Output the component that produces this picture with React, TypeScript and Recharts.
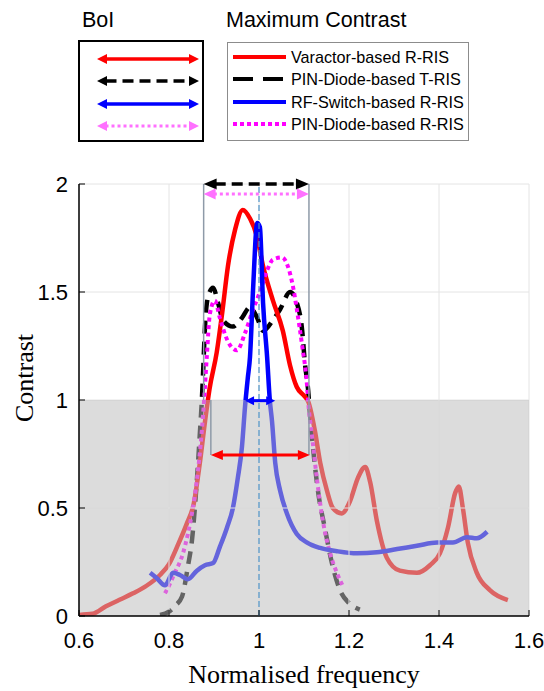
import React from "react";
import {
  LineChart,
  Line,
  XAxis,
  YAxis,
  CartesianGrid,
  ReferenceArea,
  ReferenceLine,
  Label,
} from "recharts";

// ---------- data ----------
const xTicks = [0.6, 0.8, 1, 1.2, 1.4, 1.6];
const yTicks = [0, 0.5, 1, 1.5, 2];

const seriesNames = [
  "Varactor-based R-RIS",
  "PIN-Diode-based T-RIS",
  "RF-Switch-based R-RIS",
  "PIN-Diode-based R-RIS",
];

const varactorRRIS: [number, number][] = [
  [0.6, 0.005], [0.63, 0.01], [0.66, 0.045], [0.69, 0.075], [0.72, 0.105],
  [0.75, 0.14], [0.78, 0.19], [0.8, 0.24], [0.82, 0.33], [0.84, 0.43],
  [0.855, 0.52], [0.868, 0.7], [0.88, 0.9], [0.89, 1.05], [0.906, 1.22],
  [0.918, 1.4], [0.931, 1.62], [0.947, 1.79], [0.964, 1.88], [0.98, 1.84],
  [0.995, 1.76], [1.009, 1.62], [1.031, 1.46], [1.053, 1.32], [1.069, 1.16],
  [1.084, 1.06], [1.1, 1.02], [1.11, 0.99], [1.124, 0.86], [1.136, 0.71],
  [1.151, 0.58], [1.164, 0.5], [1.184, 0.475], [1.202, 0.53], [1.22, 0.64],
  [1.236, 0.69], [1.247, 0.62], [1.262, 0.44], [1.284, 0.27], [1.313, 0.21],
  [1.351, 0.2], [1.38, 0.235], [1.402, 0.29], [1.42, 0.41], [1.436, 0.57],
  [1.444, 0.6], [1.453, 0.5], [1.464, 0.34], [1.484, 0.2], [1.513, 0.12],
  [1.553, 0.074],
];

const pinDiodeTRIS: [number, number][] = [
  [0.78, 0.005], [0.8, 0.02], [0.815, 0.05], [0.829, 0.09], [0.842, 0.23],
  [0.851, 0.35], [0.862, 0.63], [0.869, 0.86], [0.873, 1.0], [0.876, 1.14],
  [0.88, 1.34], [0.887, 1.48], [0.898, 1.52], [0.909, 1.45], [0.92, 1.37],
  [0.942, 1.34], [0.962, 1.38], [0.98, 1.43], [0.996, 1.38], [1.009, 1.32],
  [1.031, 1.37], [1.047, 1.42], [1.069, 1.5], [1.084, 1.45], [1.096, 1.32],
  [1.102, 1.17], [1.109, 1.05], [1.113, 0.94], [1.12, 0.78], [1.131, 0.58],
  [1.147, 0.4], [1.162, 0.245], [1.18, 0.12], [1.2, 0.06], [1.224, 0.03],
];

const rfSwitchRRIS: [number, number][] = [
  [0.758, 0.2], [0.773, 0.175], [0.791, 0.142], [0.809, 0.2], [0.824, 0.19],
  [0.842, 0.17], [0.862, 0.21], [0.88, 0.235], [0.898, 0.245], [0.913, 0.32],
  [0.929, 0.41], [0.942, 0.5], [0.953, 0.64], [0.962, 0.78], [0.969, 0.97],
  [0.975, 1.1], [0.98, 1.2], [0.987, 1.52], [0.996, 1.82], [1.002, 1.8],
  [1.009, 1.45], [1.018, 1.2], [1.024, 1.0], [1.029, 0.9], [1.036, 0.71],
  [1.047, 0.58], [1.062, 0.475], [1.084, 0.38], [1.107, 0.34], [1.136, 0.315],
  [1.173, 0.3], [1.218, 0.29], [1.262, 0.295], [1.307, 0.31], [1.351, 0.325],
  [1.396, 0.34], [1.431, 0.34], [1.462, 0.365], [1.484, 0.36], [1.507, 0.39],
];

const pinDiodeRRIS: [number, number][] = [
  [0.791, 0.105], [0.795, 0.12], [0.813, 0.2], [0.831, 0.29], [0.842, 0.38],
  [0.851, 0.475], [0.862, 0.63], [0.873, 0.86], [0.878, 1.0], [0.884, 1.2],
  [0.891, 1.4], [0.902, 1.46], [0.913, 1.38], [0.929, 1.28], [0.951, 1.23],
  [0.969, 1.31], [0.987, 1.42], [1.002, 1.5], [1.018, 1.6], [1.031, 1.65],
  [1.051, 1.66], [1.064, 1.62], [1.076, 1.52], [1.084, 1.42], [1.096, 1.25],
  [1.107, 1.06], [1.109, 1.0], [1.118, 0.83], [1.129, 0.63], [1.142, 0.44],
  [1.158, 0.29], [1.173, 0.2], [1.187, 0.135],
];

// BoI bands: [from, to, level]
const boiPinTRIS = [0.877, 1.111, 2];
const boiPinRRIS = [0.877, 1.111, 1.954];
const boiVaractor = [0.893, 1.113, 0.745];
const boiRFSwitch = [0.969, 1.036, 0.997];
const centreFrequency = 1;
const contrastThreshold = 1;

// ---------- helpers ----------
const toPts = (a: [number, number][]) => a.map(([x, y]) => ({ x, y }));

const SANS = "'Liberation Sans', Arial, sans-serif";
const SERIF = "'Liberation Serif', 'Times New Roman', serif";

function arrowSvg(
  x1: number, y1: number, x2: number, y2: number,
  color: string, width: number, dash: string | undefined,
  head: number, headW: number
) {
  const dx = x2 - x1, dy = y2 - y1;
  const len = Math.hypot(dx, dy) || 1;
  const ux = dx / len, uy = dy / len;
  const nx = -uy, ny = ux;
  const tri = (tx: number, ty: number, s: number) => {
    const bx = tx - s * ux * head, by = ty - s * uy * head;
    return `${tx},${ty} ${bx + (nx * headW) / 2},${by + (ny * headW) / 2} ${bx - (nx * headW) / 2},${by - (ny * headW) / 2}`;
  };
  return (
    <g>
      <line
        x1={x1 + ux * head * 0.85}
        y1={y1 + uy * head * 0.85}
        x2={x2 - ux * head * 0.85}
        y2={y2 - uy * head * 0.85}
        stroke={color}
        strokeWidth={width}
        strokeDasharray={dash}
      />
      <polygon points={tri(x2, y2, 1)} fill={color} />
      <polygon points={tri(x1, y1, -1)} fill={color} />
    </g>
  );
}

const arrowShape =
  (color: string, width: number, dash: string | undefined, head: number, headW: number) =>
  (p: any) =>
    arrowSvg(p.x1, p.y1, p.x2, p.y2, color, width, dash, head, headW);

const YTickLeft = (p: any) => (
  <g>
    <text x={p.x - 11} y={p.y} dy="0.36em" textAnchor="end" fontSize={22} fontFamily={SANS} fill="#000">
      {String(p.payload.value)}
    </text>
    <line x1={p.x} x2={p.x + 6} y1={p.y} y2={p.y} stroke="#000" strokeWidth={1} />
  </g>
);
const YTickRight = (p: any) => (
  <line x1={p.x} x2={p.x - 6} y1={p.y} y2={p.y} stroke="#000" strokeWidth={1} />
);
const XTickBottom = (p: any) => (
  <g>
    <text x={p.x} y={p.y + 32} textAnchor="middle" fontSize={22} fontFamily={SANS} fill="#000">
      {String(p.payload.value)}
    </text>
    <line x1={p.x} x2={p.x} y1={p.y} y2={p.y - 6} stroke="#000" strokeWidth={1} />
  </g>
);
const XTickTop = (p: any) => (
  <line x1={p.x} x2={p.x} y1={p.y} y2={p.y + 6} stroke="#000" strokeWidth={1} />
);

const BOUND = "#8e9aa8";

export default function App() {
  const legendRows = [57, 79, 102, 124];
  const legendStyles = [
    { color: "#ff0000", dash: undefined as string | undefined },
    { color: "#000000", dash: "20 10" },
    { color: "#0000ff", dash: undefined },
    { color: "#ff00ff", dash: "4 3" },
  ];
  const boiStyles = [
    { color: "#ff0000", dash: undefined as string | undefined },
    { color: "#000000", dash: "11 6" },
    { color: "#0000ff", dash: undefined },
    { color: "#ff70ff", dash: "3 3" },
  ];
  const innerX = xTicks.slice(1, -1);
  const innerYBelow = yTicks.filter((v) => v > 0 && v < contrastThreshold);

  return (
    <div style={{ position: "absolute", left: 0, top: 0, width: 544, height: 691, background: "#fff" }}>
      <LineChart
        width={544}
        height={691}
        margin={{ top: 184, right: 15, bottom: 0, left: 0 }}
      >
        <CartesianGrid stroke="#e4e4e4" strokeWidth={1} />
        <XAxis
          xAxisId={0}
          dataKey="x"
          type="number"
          domain={[0.6, 1.6]}
          ticks={xTicks}
          allowDataOverflow
          height={75}
          tickSize={0}
          tickMargin={0}
          tick={XTickBottom}
          axisLine={{ stroke: "#000", strokeWidth: 1.5 }}
        >
          <Label
            value="Normalised frequency"
            position="insideBottom"
            offset={8}
            fontSize={26}
            fontFamily={SERIF}
            fill="#000"
          />
        </XAxis>
        <XAxis
          xAxisId="top"
          orientation="top"
          dataKey="x"
          type="number"
          domain={[0.6, 1.6]}
          ticks={xTicks}
          allowDataOverflow
          height={0}
          tickSize={0}
          tickMargin={0}
          tick={XTickTop}
          axisLine={{ stroke: "#000", strokeWidth: 1.5 }}
        />
        <YAxis
          yAxisId={0}
          type="number"
          domain={[0, 2]}
          ticks={yTicks}
          allowDataOverflow
          width={79}
          tickSize={0}
          tickMargin={0}
          tick={YTickLeft}
          axisLine={{ stroke: "#000", strokeWidth: 1.5 }}
        >
          <Label
            content={() => (
              <text
                x={33}
                y={378}
                transform="rotate(-90 33 378)"
                textAnchor="middle"
                fontSize={26}
                fontFamily={SERIF}
                fill="#000"
              >
                Contrast
              </text>
            )}
          />
        </YAxis>
        <YAxis
          yAxisId="right"
          orientation="right"
          type="number"
          domain={[0, 2]}
          ticks={yTicks}
          allowDataOverflow
          width={0}
          tickSize={0}
          tickMargin={0}
          tick={YTickRight}
          axisLine={{ stroke: "#000", strokeWidth: 1.5 }}
        />

        <Line
          data={toPts(pinDiodeTRIS)}
          dataKey="y"
          name={seriesNames[1]}
          type="monotone"
          stroke="#000000"
          strokeWidth={4.5}
          strokeDasharray="13 8"
          dot={false}
          activeDot={false}
          isAnimationActive={false}
        />
        <Line
          data={toPts(varactorRRIS)}
          dataKey="y"
          name={seriesNames[0]}
          type="monotone"
          stroke="#ff0000"
          strokeWidth={4.5}
          dot={false}
          activeDot={false}
          isAnimationActive={false}
        />
        <Line
          data={toPts(pinDiodeRRIS)}
          dataKey="y"
          name={seriesNames[3]}
          type="monotone"
          stroke="#ff00ff"
          strokeWidth={4}
          strokeDasharray="4 3.5"
          dot={false}
          activeDot={false}
          isAnimationActive={false}
        />
        <Line
          data={toPts(rfSwitchRRIS)}
          dataKey="y"
          name={seriesNames[2]}
          type="monotone"
          stroke="#0000ff"
          strokeWidth={4.5}
          dot={false}
          activeDot={false}
          isAnimationActive={false}
        />

        <ReferenceArea
          x1={0.6}
          x2={1.6}
          y1={0}
          y2={contrastThreshold}
          fill="#bcbcbc"
          fillOpacity={0.53}
          stroke="none"
          zIndex={450}
        />

        {/* grid lines visible through the shaded region */}
        {innerX.map((v) => (
          <ReferenceLine
            key={`gx${v}`}
            segment={[{ x: v, y: 0 }, { x: v, y: contrastThreshold }]}
            stroke="#e0e0e0"
            strokeWidth={1}
            zIndex={460}
          />
        ))}
        {innerYBelow.map((v) => (
          <ReferenceLine key={`gy${v}`} y={v} stroke="#e0e0e0" strokeWidth={1} zIndex={460} />
        ))}

        {/* BoI boundary lines */}
        <ReferenceLine
          segment={[{ x: boiPinTRIS[0], y: boiPinTRIS[2] }, { x: boiPinTRIS[0], y: contrastThreshold }]}
          stroke={BOUND}
          strokeWidth={1.5}
          zIndex={550}
        />
        <ReferenceLine
          segment={[{ x: boiVaractor[0], y: contrastThreshold }, { x: boiVaractor[0], y: boiVaractor[2] }]}
          stroke={BOUND}
          strokeWidth={1.5}
          zIndex={550}
        />
        <ReferenceLine
          segment={[{ x: boiPinTRIS[1], y: boiPinTRIS[2] }, { x: boiPinTRIS[1], y: boiVaractor[2] }]}
          stroke={BOUND}
          strokeWidth={1.5}
          zIndex={550}
        />
        <ReferenceLine
          x={centreFrequency}
          stroke="#4f94c8"
          strokeWidth={1.2}
          strokeDasharray="6 3"
          zIndex={560}
        />

        {/* BoI arrows */}
        <ReferenceLine
          segment={[{ x: boiPinTRIS[0], y: boiPinTRIS[2] }, { x: boiPinTRIS[1], y: boiPinTRIS[2] }]}
          shape={arrowShape("#000000", 3.5, "11 6", 13, 11)}
          zIndex={600}
        />
        <ReferenceLine
          segment={[{ x: boiPinRRIS[0], y: boiPinRRIS[2] }, { x: boiPinRRIS[1], y: boiPinRRIS[2] }]}
          shape={arrowShape("#ff70ff", 3, "3 3", 12, 11)}
          zIndex={600}
        />
        <ReferenceLine
          segment={[{ x: boiVaractor[0], y: boiVaractor[2] }, { x: boiVaractor[1], y: boiVaractor[2] }]}
          shape={arrowShape("#ff0000", 3, undefined, 12, 10)}
          zIndex={600}
        />
        <ReferenceLine
          segment={[{ x: boiRFSwitch[0], y: boiRFSwitch[2] }, { x: boiRFSwitch[1], y: boiRFSwitch[2] }]}
          shape={arrowShape("#0000ff", 3, undefined, 9, 9)}
          zIndex={600}
        />
      </LineChart>

      <svg
        width={544}
        height={160}
        style={{ position: "absolute", left: 0, top: 0, pointerEvents: "none" }}
      >
        <text x={82} y={27} fontSize={21.5} fontFamily={SANS} fill="#000">BoI</text>
        <text x={226} y={27} fontSize={21.5} fontFamily={SANS} fill="#000">Maximum Contrast</text>

        <rect x={79} y={41} width={124} height={100} fill="#fff" stroke="#000" strokeWidth={2} />
        {boiStyles.map((s, i) => (
          <g key={i}>
            {arrowSvg(97, legendRows[i] + 2, 199, legendRows[i] + 2, s.color, i === 3 ? 3 : 3.5, s.dash, 10, 10)}
          </g>
        ))}

        <rect x={227.5} y={42.5} width={241} height={98} fill="#fff" stroke="#8c8c8c" strokeWidth={1} />
        {legendStyles.map((s, i) => (
          <g key={i}>
            <line
              x1={233}
              x2={286}
              y1={legendRows[i]}
              y2={legendRows[i]}
              stroke={s.color}
              strokeWidth={4}
              strokeDasharray={s.dash}
            />
            <text x={291} y={legendRows[i] + 6} fontSize={16.2} fontFamily={SANS} fill="#000">
              {seriesNames[i]}
            </text>
          </g>
        ))}
      </svg>
    </div>
  );
}
